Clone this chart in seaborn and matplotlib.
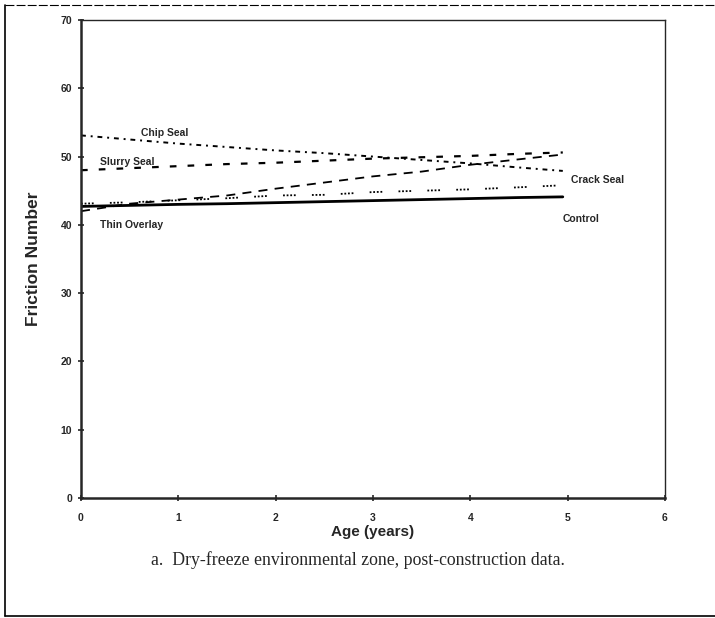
import matplotlib
matplotlib.use("Agg")
import matplotlib.pyplot as plt
import seaborn as sns
import pandas as pd

# values
age = [0, 0.5, 1, 1.5, 2, 2.5, 3, 3.5, 4, 4.5, 4.95]
chip_seal = [53.1, 52.5, 51.9, 51.4, 50.9, 50.5, 50.0, 49.5, 49.0, 48.4, 47.9]
slurry_seal = [48.0, 48.3, 48.6, 48.9, 49.1, 49.4, 49.7, 49.9, 50.1, 50.4, 50.6]
thin_overlay = [42.0, 43.1, 43.7, 44.3, 45.3, 46.2, 47.1, 47.8, 48.8, 49.6, 50.3]
crack_seal = [43.1, 43.3, 43.6, 43.9, 44.3, 44.4, 44.8, 45.0, 45.2, 45.5, 45.8]
control = [42.7, 42.85, 43.0, 43.1, 43.25, 43.4, 43.55, 43.7, 43.85, 44.0, 44.1]

series = {
    "Chip Seal": chip_seal,
    "Slurry Seal": slurry_seal,
    "Thin Overlay": thin_overlay,
    "Crack Seal": crack_seal,
    "Control": control,
}
df = pd.DataFrame(
    [(name, a, v) for name, vals in series.items() for a, v in zip(age, vals)],
    columns=["treatment", "age", "fn"],
)

sns.set_style("ticks")
plt.rcParams["font.family"] = ["Liberation Sans", "DejaVu Sans"]

fig = plt.figure(figsize=(7.15, 6.18), dpi=100)
ax = fig.add_axes([81 / 715, 1 - 498 / 618, 584 / 715, 478 / 618])

styles = {
    "Chip Seal": ((2.5, 2.5, 1, 2.5), 1.4),
    "Slurry Seal": ((3, 5), 1.6),
    "Thin Overlay": ((5, 4), 1.3),
    "Crack Seal": ((1, 1, 1, 1, 1, 1, 1, 9), 1.3),
    "Control": (None, 2.0),
}

for name in series:
    sub = df[df["treatment"] == name]
    sns.lineplot(data=sub, x="age", y="fn", color="black", ax=ax, legend=False)
    line = ax.get_lines()[-1]
    dash, lw = styles[name]
    line.set_linewidth(lw)
    if dash is not None:
        line.set_dashes(dash)

ax.set_xlim(0, 6)
ax.set_ylim(0, 70)
ax.set_xticks(range(0, 7))
ax.set_yticks(range(0, 80, 10))
ax.tick_params(direction="inout", length=5, width=1.2, labelsize=7.5)
ax.tick_params(axis="x", pad=8)
ax.tick_params(axis="y", pad=4)
for lab in ax.get_xticklabels() + ax.get_yticklabels():
    lab.set_fontweight("bold")
for side in ["left", "bottom"]:
    ax.spines[side].set_linewidth(1.8)
for side in ["top", "right"]:
    ax.spines[side].set_linewidth(1.0)

ax.set_xlabel("Age (years)", fontsize=11, fontweight="bold", labelpad=2)
ax.set_ylabel("Friction Number", fontsize=12.5, fontweight="bold", labelpad=14)

lab_kw = dict(fontsize=7.5, fontweight="bold", va="center", ha="left")
ax.text(0.62, 53.5, "Chip Seal", **lab_kw)
ax.text(0.2, 49.2, "Slurry Seal", **lab_kw)
ax.text(0.2, 40.0, "Thin Overlay", **lab_kw)
ax.text(5.03, 46.6, "Crack Seal", **lab_kw)
ax.text(4.95, 40.9, "Control", **lab_kw)

fig.text(0.5, 1 - 560 / 618, "a.  Dry-freeze environmental zone, post-construction data.",
         ha="center", va="center", fontsize=12.8, family="Liberation Serif")

# outer frame of the scanned page (no right edge)
fig.add_artist(plt.Line2D([5 / 715, 5 / 715], [1 - 616 / 618, 1 - 5 / 618],
                          color="black", lw=1.2, transform=fig.transFigure))
fig.add_artist(plt.Line2D([5 / 715, 1], [1 - 5 / 618, 1 - 5 / 618],
                          color="black", lw=0.8, ls=(0, (8, 2)), transform=fig.transFigure))
fig.add_artist(plt.Line2D([5 / 715, 1], [1 - 616 / 618, 1 - 616 / 618],
                          color="black", lw=1.2, transform=fig.transFigure))

fig.savefig("out.png", dpi=100)
